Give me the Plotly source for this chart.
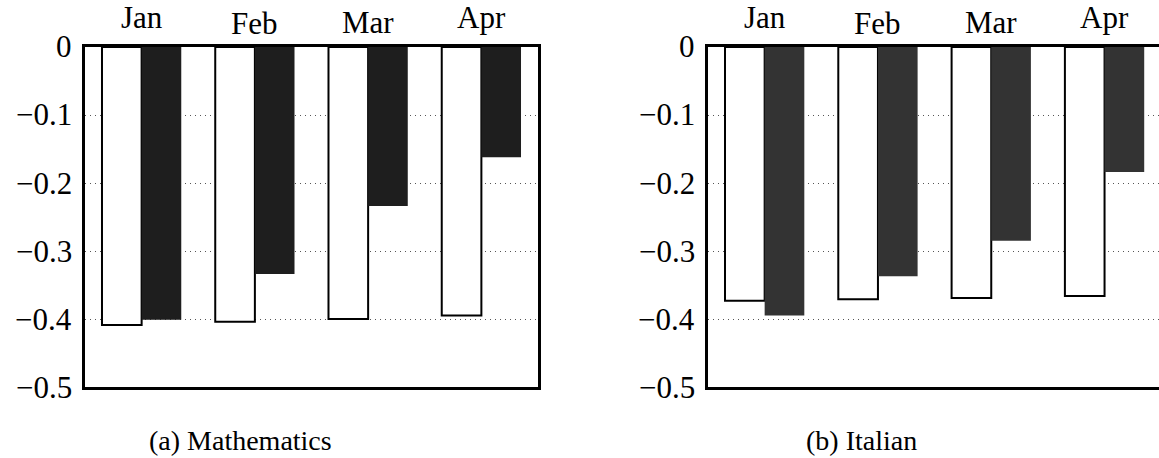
import plotly.graph_objects as go

months = ["Jan", "Feb", "Mar", "Apr"]
math_white = [-0.409, -0.404, -0.400, -0.395]
math_dark = [-0.401, -0.334, -0.234, -0.162]
ital_white = [-0.373, -0.371, -0.369, -0.366]
ital_dark = [-0.395, -0.337, -0.285, -0.184]
y_ticks = [0, -0.1, -0.2, -0.3, -0.4, -0.5]
y_ticktext = ["0", "\u22120.1", "\u22120.2", "\u22120.3", "\u22120.4", "\u22120.5"]
captions = ["(a) Mathematics", "(b) Italian"]

W, H = 1159, 458
FONT = "Liberation Serif"

# vertical centre (px from top) of each month label, per panel
label_mid_px = [[17, 23.5, 23, 17], [17, 23.5, 23, 17.5]]
axis_left_px = [85, 708]

fig = go.Figure()

fig.add_trace(go.Bar(x=months, y=math_white, marker=dict(color="white", line=dict(color="black", width=2)),
                     xaxis="x", yaxis="y", showlegend=False))
fig.add_trace(go.Bar(x=months, y=math_dark, marker=dict(color="#1e1e1e", line=dict(width=0)),
                     xaxis="x", yaxis="y", showlegend=False))
fig.add_trace(go.Bar(x=months, y=ital_white, marker=dict(color="white", line=dict(color="black", width=2)),
                     xaxis="x2", yaxis="y2", showlegend=False))
fig.add_trace(go.Bar(x=months, y=ital_dark, marker=dict(color="#333333", line=dict(width=0)),
                     xaxis="x2", yaxis="y2", showlegend=False))

ydom = [(H - 387) / H, (H - 47) / H]
xdom1 = [85 / W, 538 / W]
xdom2 = [708 / W, 1.0]
span2 = (W - 708) / 113.3

common_x = dict(type="category", showticklabels=False, ticks="", showgrid=False, zeroline=False,
                showline=True, linecolor="black", linewidth=2.5, mirror=True, automargin=False)
common_y = dict(range=[-0.5, 0], tickvals=y_ticks, ticks="", showticklabels=False,
                showgrid=True, gridcolor="#555555", gridwidth=1, griddash="1px,4px",
                zeroline=False, showline=True, linecolor="black", linewidth=2.5, automargin=False)

fig.update_layout(
    template="none",
    width=W, height=H,
    font=dict(family=FONT, color="black"),
    margin=dict(l=0, r=0, t=0, b=0, autoexpand=False),
    paper_bgcolor="white", plot_bgcolor="white",
    barmode="group", bargap=0.3, bargroupgap=0,
    xaxis=dict(domain=xdom1, range=[-0.5, 3.5], anchor="y", **common_x),
    yaxis=dict(domain=ydom, anchor="x", mirror=True, **common_y),
    xaxis2=dict(domain=xdom2, range=[-0.5, -0.5 + span2], anchor="y2", **common_x),
    yaxis2=dict(domain=ydom, anchor="x2", mirror=False, **common_y),
)

annotations = []
for p, (xref, yref) in enumerate([("x", "y"), ("x2", "y2")]):
    for i, m in enumerate(months):
        annotations.append(dict(x=m, xref=xref, y=(H - label_mid_px[p][i]) / H, yref="paper",
                                text=m, showarrow=False, xanchor="center", yanchor="middle",
                                font=dict(family=FONT, size=31, color="black")))
    for v, t in zip(y_ticks, y_ticktext):
        annotations.append(dict(x=(axis_left_px[p] - 11) / W, xref="paper", y=v, yref=yref,
                                text=t, showarrow=False, xanchor="right", yanchor="middle",
                                font=dict(family=FONT, size=31, color="black")))
cap_x = [240 / W, 861 / W]
for c, cx in zip(captions, cap_x):
    annotations.append(dict(x=cx, xref="paper", y=(H - 440) / H, yref="paper", text=c,
                            showarrow=False, xanchor="center", yanchor="middle",
                            font=dict(family=FONT, size=28, color="black")))
fig.update_layout(annotations=annotations)

fig.write_html("out.html", config={"displayModeBar": False},
               post_script="document.body.style.margin='0';document.body.style.overflow='hidden';")
